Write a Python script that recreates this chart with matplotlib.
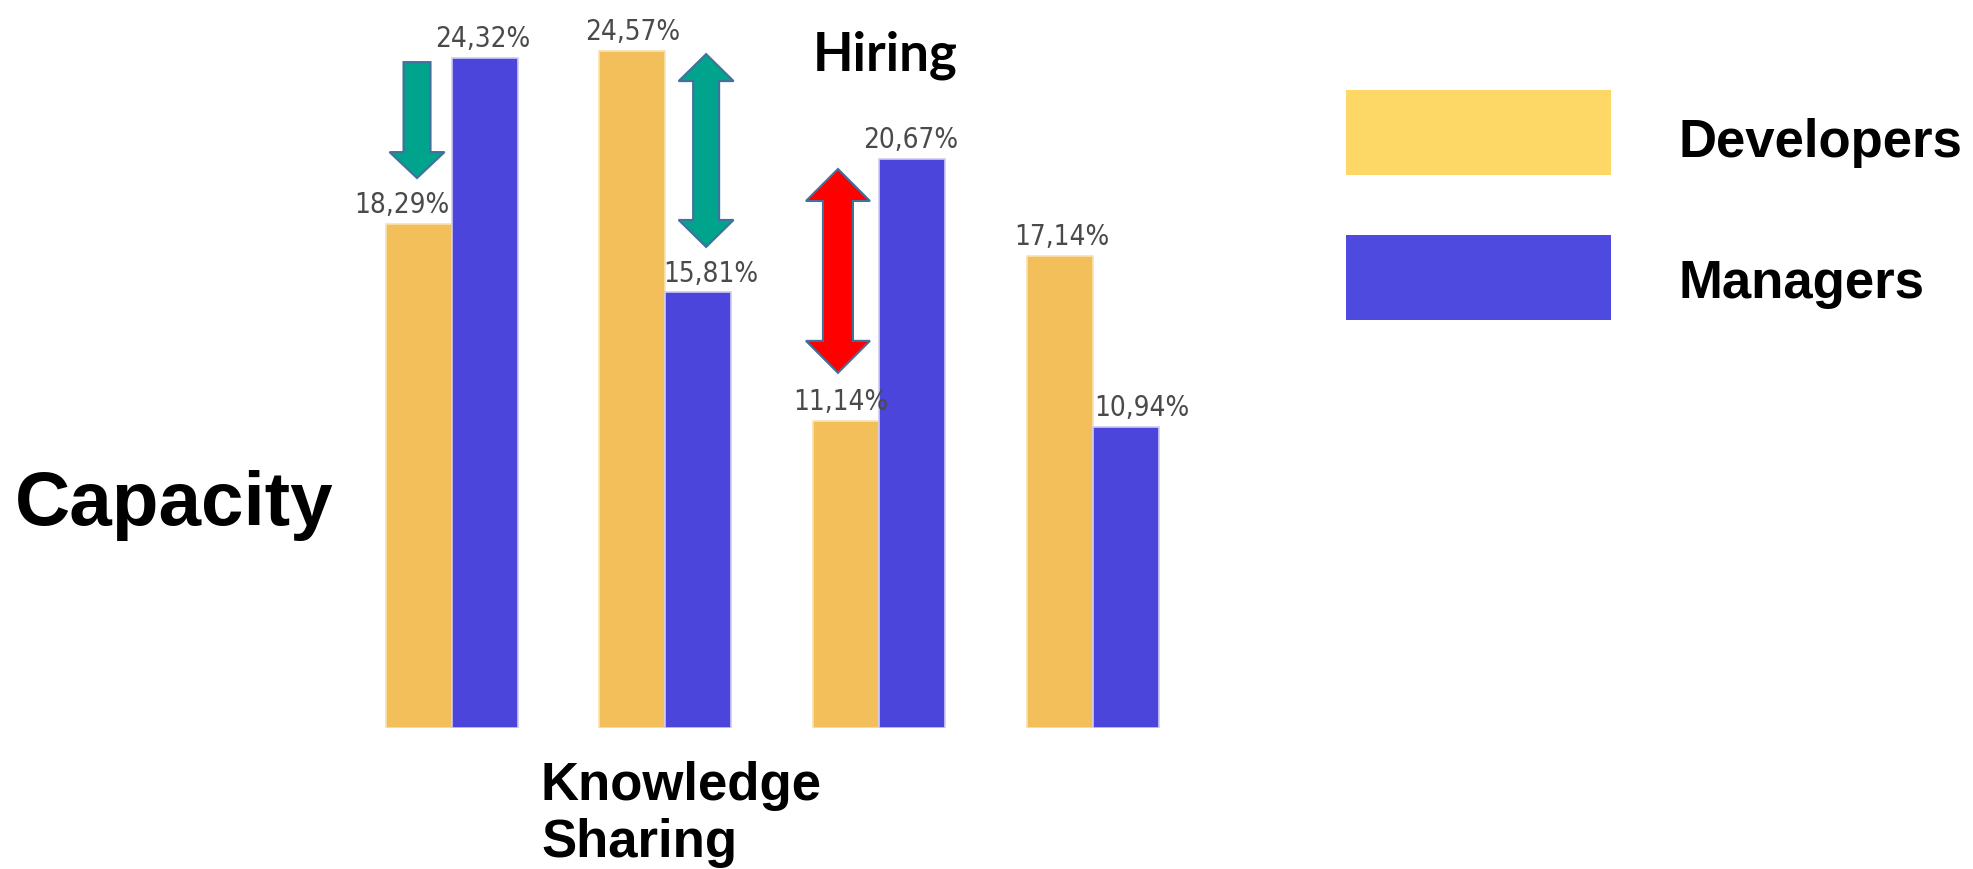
import matplotlib
matplotlib.use('Agg')
import matplotlib.pyplot as plt
import numpy as np
from matplotlib.patches import Polygon, Rectangle
from matplotlib import font_manager

# ---------------- data ----------------
categories = ['Capacity', 'Knowledge Sharing', 'Hiring', 'Other']
developers = [18.29, 24.57, 11.14, 17.14]
managers = [24.32, 15.81, 20.67, 10.94]
series_names = ['Developers', 'Managers']

# ---------------- style ----------------
W, H = 1974, 870
C_DEV = '#F2BF5B'
C_MGR = '#4B45DC'
C_DEV_LEG = '#FDD867'
C_MGR_LEG = '#4F4ADF'
C_GREEN = '#00A38C'
C_RED = '#FF0000'
C_EDGE = '#41719C'
LABEL_COLOR = '#4A4A4A'
bold_font = ['Liberation Sans', 'DejaVu Sans']

# pick a condensed face for the value labels if one is installed
label_kw = dict(family=['DejaVu Sans'], fontsize=17)
_cond = [f for f in font_manager.fontManager.ttflist
         if f.stretch in ('condensed', 'semi-condensed', 'extra-condensed',
                          'ultra-condensed')
         or 'Narrow' in f.name or 'Condensed' in f.name]
_cond = [f for f in _cond if f.style == 'normal']
if _cond:
    pref = sorted(_cond, key=lambda f: (0 if 'DejaVu' in f.name else
                                        1 if 'Liberation' in f.name else 2,
                                        0 if f.weight in (400, 'normal', 'regular') else 1))
    f0 = pref[0]
    label_kw = dict(family=[f0.name], fontstretch=f0.stretch, fontsize=20)

# label x-offsets (points) per bar, to mimic the original placement
dev_label_dx = [-12, 0, -4, 1.5]
mgr_label_dx = [-1, 9, -1, 11.5]


def fmt(v):
    return f"{v:.2f}%".replace('.', ',')


def px(xp, yp):
    return xp / W, 1 - yp / H


fig = plt.figure(figsize=(W / 100, H / 100), dpi=100)
ax = fig.add_axes([0, 141 / H, 1, 729 / H])
ax.set_xlim(-2.111, 7.118)
ax.set_ylim(0, 26.46)
ax.axis('off')

x = np.arange(len(categories))
w = 0.3086
ax.bar(x - w / 2, developers, w, color=C_DEV, edgecolor='#F8E2AE', linewidth=1.2)
ax.bar(x + w / 2, managers, w, color=C_MGR, edgecolor='#CFCBF2', linewidth=1.2)

for i in range(len(categories)):
    ax.annotate(fmt(developers[i]), (x[i] - w / 2, developers[i]),
                xytext=(dev_label_dx[i], 8.5), textcoords='offset points',
                ha='center', va='baseline', color=LABEL_COLOR, **label_kw)
    ax.annotate(fmt(managers[i]), (x[i] + w / 2, managers[i]),
                xytext=(mgr_label_dx[i], 8.5), textcoords='offset points',
                ha='center', va='baseline', color=LABEL_COLOR, **label_kw)


def block_arrow(xc, y_top, y_bot, shaft_px, head_px, headlen_px, double, fc):
    o = ax.transData.transform((0, 0))
    sx = ax.transData.transform((1, 0))[0] - o[0]
    sy = ax.transData.transform((0, 1))[1] - o[1]
    hs = shaft_px / 2 / sx
    hh = head_px / 2 / sx
    hl = headlen_px / sy
    if double:
        pts = [(xc, y_top), (xc + hh, y_top - hl), (xc + hs, y_top - hl),
               (xc + hs, y_bot + hl), (xc + hh, y_bot + hl), (xc, y_bot),
               (xc - hh, y_bot + hl), (xc - hs, y_bot + hl),
               (xc - hs, y_top - hl), (xc - hh, y_top - hl)]
    else:
        pts = [(xc - hs, y_top), (xc + hs, y_top), (xc + hs, y_bot + hl),
               (xc + hh, y_bot + hl), (xc, y_bot), (xc - hh, y_bot + hl),
               (xc - hs, y_bot + hl)]
    ax.add_patch(Polygon(pts, closed=True, facecolor=fc, edgecolor=C_EDGE,
                         linewidth=1.5, zorder=5))


# arrows (annotations)
block_arrow(x[0] - w / 2 - 0.007, 24.17, 19.96, 27, 55, 26, False, C_GREEN)
block_arrow(x[1] + w / 2 + 0.036, 24.46, 17.46, 26, 55, 27, True, C_GREEN)
block_arrow(x[2] - w / 2 - 0.039, 20.29, 12.89, 30, 64, 32, True, C_RED)

# category texts
fig.text(*px(15, 525), categories[0], fontsize=55, fontweight='bold',
         family=bold_font, ha='left', va='baseline')
fig.text(*px(541, 800), 'Knowledge', fontsize=38, fontweight='bold',
         family=bold_font, ha='left', va='baseline')
fig.text(*px(541, 857), 'Sharing', fontsize=38, fontweight='bold',
         family=bold_font, ha='left', va='baseline')
fig.text(*px(813, 70), categories[2], fontsize=38, fontweight='bold',
         family=['Lato', 'DejaVu Sans'], ha='left', va='baseline')

# legend
for name, col, top, base in [(series_names[0], C_DEV_LEG, 91, 157),
                             (series_names[1], C_MGR_LEG, 236, 298)]:
    x0, y0 = px(1346, top + 85)
    fig.add_artist(Rectangle((x0, y0), 265 / W, 85 / H, transform=fig.transFigure,
                             facecolor=col, edgecolor='none'))
    fig.text(*px(1678, base), name, fontsize=38, fontweight='bold',
             family=bold_font, ha='left', va='baseline')

fig.savefig('out.png', dpi=100, facecolor='white')
